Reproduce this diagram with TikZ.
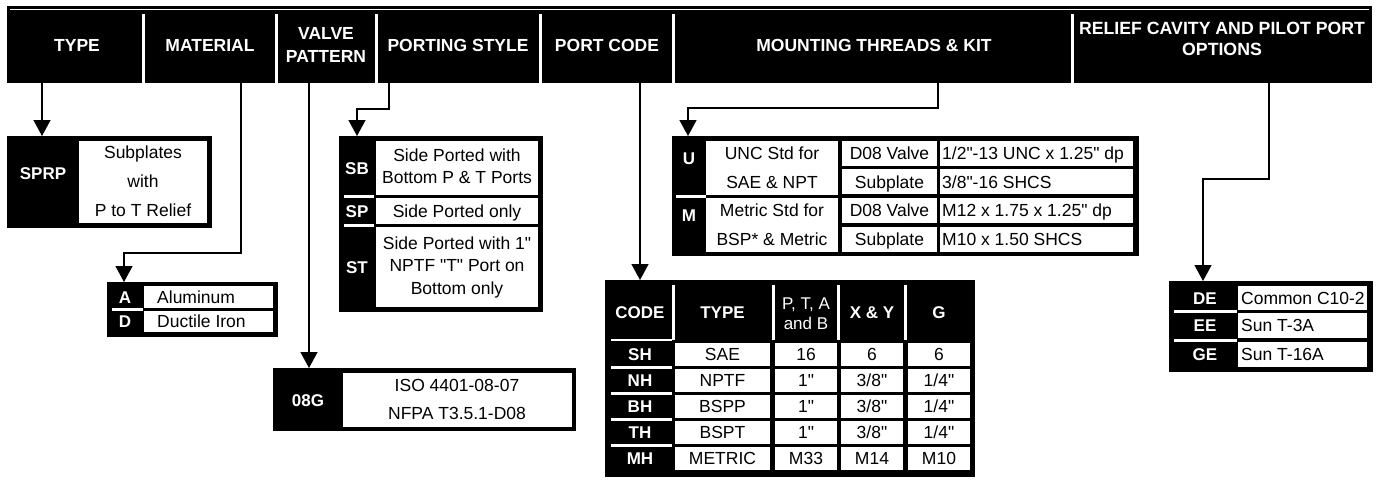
\documentclass[tikz,border=0pt]{standalone}
\usepackage{fontspec}
\setmainfont{Liberation Sans}[Ligatures=TeXOff]
\usetikzlibrary{arrows.meta}

\begin{document}
\begin{tikzpicture}[x=1pt, y=-1pt,
	hd/.style={text=white, font=\fontsize{17.5}{22}\selectfont\bfseries, align=center, inner sep=0},
	capline/.style={text height=12.4pt, text depth=0pt},
	lbl/.style={text=white, font=\fontsize{17}{20}\selectfont\bfseries, inner sep=0, capline},
	txt/.style={font=\fontsize{17.5}{22}\selectfont, align=center, inner sep=0},
	ltxt/.style={txt, anchor=west, capline},
	arr/.style={line width=1.3pt, -{Triangle[width=17pt, length=16pt]}},
	sep/.style={white, line width=3pt},
	rowsep/.style={white, line width=2.5pt}]
	\useasboundingbox (0,0) rectangle (1379,483);

	% header band
	\fill (7,6) rectangle (1372,83);
	\draw[white, line width=1pt] (10,9.5) -- (1369,9.5);
	\foreach \x in {143,276,376,540,673,1072}
		\draw[sep] (\x,14) -- (\x,83);

	\node[hd] (hdtype) at (77,45) {TYPE};
	\node[hd] (hdmat) at (210,45) {MATERIAL};
	\node[hd, font=\fontsize{17.5}{23}\selectfont\bfseries] (hdvalve) at (326,44.5) {VALVE\\PATTERN};
	\node[hd] (hdport) at (458,45) {PORTING STYLE};
	\node[hd] (hdcode) at (607,45) {PORT CODE};
	\node[hd] (hdmount) at (874,45) {MOUNTING THREADS \& KIT};
	\node[hd, font=\fontsize{17.7}{21}\selectfont\bfseries] (hdrelief) at (1222,38.5) {RELIEF CAVITY AND PILOT PORT\\OPTIONS};

	% type
	\coordinate (ctype) at (42,83);
	\coordinate (sprpbox) at (42,136);
	\draw[arr] (ctype) -- (sprpbox);
	\fill (7,136) rectangle (212,228);
	\fill[white] (79,141) rectangle (207,223);
	\node[lbl] (sprp) at (43,173) {SPRP};
	\node[txt, font=\fontsize{17.5}{29}\selectfont] (sprptxt) at (143,181) {Subplates\\with\\P to T Relief};

	% material
	\coordinate (cmat) at (241,83);
	\coordinate (matbend) at (124,253);
	\coordinate (matbox) at (124,282);
	\draw[arr] (cmat) |- (matbend) -- (matbox);
	\fill (107,282) rectangle (278,337);
	\fill[white] (144,286) rectangle (273,308);
	\fill[white] (144,311) rectangle (273,332);
	\draw[rowsep] (112,309.5) -- (143,309.5);
	\node[lbl] (ma) at (125,297) {A};
	\node[lbl] (md) at (125,321.5) {D};
	\node[ltxt] (alu) at (157,297) {Aluminum};
	\node[ltxt] (duc) at (157,321.5) {Ductile Iron};

	% valve pattern
	\coordinate (cvalve) at (309,83);
	\coordinate (valvebox) at (309,368);
	\draw[arr] (cvalve) -- (valvebox);
	\fill (273,368) rectangle (576,431);
	\fill[white] (343,373) rectangle (572,427);
	\node[lbl] (v08g) at (308,400) {08G};
	\node[txt, font=\fontsize{17.5}{28}\selectfont] (iso) at (457,399) {ISO 4401-08-07\\NFPA T3.5.1-D08};

	% porting style
	\coordinate (cport) at (389,83);
	\coordinate (portbend) at (357,109);
	\coordinate (portbox) at (357,136);
	\draw[arr] (cport) |- (portbend) -- (portbox);
	\fill (339,136) rectangle (543,312);
	\fill[white] (376,141) rectangle (538,195);
	\fill[white] (376,198) rectangle (538,224);
	\fill[white] (376,227) rectangle (538,307);
	\draw[rowsep] (344,196.5) -- (374,196.5);
	\draw[rowsep] (344,225.5) -- (374,225.5);
	\node[lbl] (sb) at (357,168) {SB};
	\node[lbl] (sp) at (357,211) {SP};
	\node[lbl] (st) at (357,267) {ST};
	\node[txt] (sbtxt) at (457,166) {Side Ported with\\Bottom P \& T Ports};
	\node[txt, capline] (sptxt) at (457,211) {Side Ported only};
	\node[txt, font=\fontsize{17.5}{22.5}\selectfont] (sttxt) at (457,267) {Side Ported with 1"\\NPTF "T" Port on\\Bottom only};

	% port code
	\coordinate (ccode) at (640,83);
	\coordinate (codebox) at (640,280);
	\draw[arr] (ccode) -- (codebox);
	\fill (605,280) rectangle (975,477);
	\foreach \x in {673,773,838.5,905.5}
		\draw[sep] (\x,285) -- (\x,340);
	\draw[rowsep] (611,340) -- (672,340);
	\node[lbl] (hcode) at (640,312) {CODE};
	\node[lbl] (htype) at (722.5,312) {TYPE};
	\node[txt, text=white, font=\fontsize{17}{20}\selectfont] (hptab) at (806,314) {P, T, A\\and B};
	\node[lbl] (hxy) at (872,312) {X \& Y};
	\node[lbl] (hg) at (939,312) {G};
	\foreach \y/\c/\t/\p/\xy/\g in {343/SH/SAE/16/6/6, 369/NH/NPTF/{1"}/{3/8"}/{1/4"},
		395/BH/BSPP/{1"}/{3/8"}/{1/4"}, 421/TH/BSPT/{1"}/{3/8"}/{1/4"}, 447/MH/METRIC/M33/M14/M10} {
		\fill[white] (675,\y) rectangle (770,\y+23);
		\fill[white] (775,\y) rectangle (837,\y+23);
		\fill[white] (841,\y) rectangle (903,\y+23);
		\fill[white] (908,\y) rectangle (970,\y+23);
		\node[lbl] (code\c) at (640,\y+11.5) {\c};
		\node[txt, capline] (type\c) at (722.5,\y+11.5) {\t};
		\node[txt, capline] (ptab\c) at (806,\y+11.5) {\p};
		\node[txt, capline] (xy\c) at (872,\y+11.5) {\xy};
		\node[txt, capline] (g\c) at (939,\y+11.5) {\g};
	}
	\foreach \y in {367.5,393.5,419.5,445.5}
		\draw[rowsep] (611,\y) -- (672,\y);

	% mounting threads
	\coordinate (cmount) at (938,83);
	\coordinate (mountbend) at (688,108);
	\coordinate (mountbox) at (688,136);
	\draw[arr] (cmount) |- (mountbend) -- (mountbox);
	\fill (672,136) rectangle (1139,256);
	\fill[white] (706,141) rectangle (838,195);
	\fill[white] (706,198) rectangle (838,252);
	\foreach \y in {141,169,198,227} {
		\fill[white] (842,\y) rectangle (937,\y+25);
		\fill[white] (940,\y) rectangle (1133,\y+25);
	}
	\draw[rowsep] (676,196.5) -- (706,196.5);
	\node[lbl] (u) at (689,158) {U};
	\node[lbl] (m) at (689,215) {M};
	\node[txt, capline] (unc) at (772,153.5) {UNC Std for};
	\node[txt, capline] (sae) at (772,182) {SAE \& NPT};
	\node[txt, capline] (met) at (772,210.5) {Metric Std for};
	\node[txt, capline] (bsp) at (772,239.5) {BSP* \& Metric};
	\node[txt, capline] (va1) at (889.5,153.5) {D08 Valve};
	\node[txt, capline] (sub1) at (889.5,182) {Subplate};
	\node[txt, capline] (va2) at (889.5,210.5) {D08 Valve};
	\node[txt, capline] (sub2) at (889.5,239.5) {Subplate};
	\node[ltxt] (th1) at (942,153.5) {1/2"-13 UNC x 1.25" dp};
	\node[ltxt] (th2) at (942,182) {3/8"-16 SHCS};
	\node[ltxt] (th3) at (942,210.5) {M12 x 1.75 x 1.25" dp};
	\node[ltxt] (th4) at (942,239.5) {M10 x 1.50 SHCS};

	% relief cavity
	\coordinate (crelief) at (1269,83);
	\coordinate (reliefbend) at (1203,179);
	\coordinate (reliefbox) at (1203,281);
	\draw[arr] (crelief) |- (reliefbend) -- (reliefbox);
	\fill (1169,281) rectangle (1373,372);
	\fill[white] (1238,286) rectangle (1367,310);
	\fill[white] (1238,313) rectangle (1367,338);
	\fill[white] (1238,342) rectangle (1367,367);
	\draw[rowsep] (1174,311.5) -- (1237,311.5);
	\draw[rowsep] (1174,340.5) -- (1237,340.5);
	\node[lbl] (de) at (1205,298) {DE};
	\node[lbl] (ee) at (1205,325.5) {EE};
	\node[lbl] (ge) at (1205,354.5) {GE};
	\node[ltxt] (c10) at (1241,298) {Common C10-2};
	\node[ltxt] (t3a) at (1241,325.5) {Sun T-3A};
	\node[ltxt] (t16a) at (1241,354.5) {Sun T-16A};
\end{tikzpicture}
\end{document}
